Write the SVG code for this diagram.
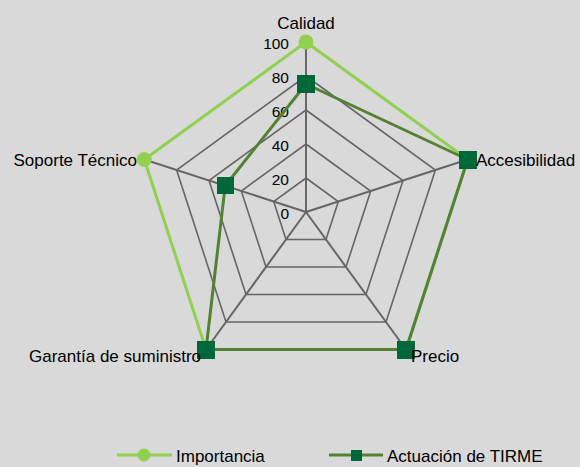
<svg xmlns="http://www.w3.org/2000/svg" width="580" height="467" viewBox="0 0 580 467">
<style>
.grid{fill:none;stroke:#666;stroke-width:1.6}
.spoke{stroke:#666;stroke-width:2}
.t{font-family:"Liberation Sans",Arial,sans-serif;font-size:17px;fill:#000}
.tick{font-family:"Liberation Sans",Arial,sans-serif;font-size:15.5px;fill:#000;text-anchor:end}
.imp{fill:none;stroke:#92D050;stroke-width:3;stroke-linejoin:round}
.act{fill:none;stroke:#548235;stroke-width:3;stroke-linejoin:round}
.cm{fill:#92D050}
.sm{fill:#006838}
</style>
<rect width="580" height="467" fill="#d9d9d9"/>
<g id="grid">
<polygon class="grid" points="306,178 338.3,201.5 326,239.5 286,239.5 273.7,201.5"/>
<polygon class="grid" points="306,144 370.7,191 346,267 266,267 241.3,191"/>
<polygon class="grid" points="306,110 403,180.5 366,294.5 246,294.5 209,180.5"/>
<polygon class="grid" points="306,76 435.4,170 386,322 226,322 176.6,170"/>
<polygon class="grid" points="306,42 467.7,159.5 406,349.5 206,349.5 144.3,159.5"/>
<line class="spoke" x1="306" y1="212" x2="306" y2="42"/>
<line class="spoke" x1="306" y1="212" x2="467.7" y2="159.5"/>
<line class="spoke" x1="306" y1="212" x2="406" y2="349.5"/>
<line class="spoke" x1="306" y1="212" x2="206" y2="349.5"/>
<line class="spoke" x1="306" y1="212" x2="144.3" y2="159.5"/>
</g>
<g id="ticks">
<text class="tick" x="289" y="219">0</text>
<text class="tick" x="289" y="185">20</text>
<text class="tick" x="289" y="151">40</text>
<text class="tick" x="289" y="117">60</text>
<text class="tick" x="289" y="83">80</text>
<text class="tick" x="289" y="49">100</text>
</g>
<g id="connectors">
<polygon id="importancia" class="imp" points="306,42 467.7,159.5 406,349.5 206,349.5 144.3,159.5"/>
<polygon id="actuacion" class="act" points="306,84 467.7,159.5 406,349.5 206,349.5 225.2,185.7"/>
</g>
<g id="markers-importancia">
<circle class="cm" cx="306" cy="42" r="7.5"/>
<circle class="cm" cx="467.7" cy="159.5" r="7.5"/>
<circle class="cm" cx="406" cy="349.5" r="7.5"/>
<circle class="cm" cx="206" cy="349.5" r="7.5"/>
<circle class="cm" cx="144.3" cy="159.5" r="7.5"/>
</g>
<g id="markers-actuacion">
<rect class="sm" x="297" y="75" width="18" height="18"/>
<rect class="sm" x="459" y="151" width="18" height="18"/>
<rect class="sm" x="397" y="341" width="18" height="18"/>
<rect class="sm" x="197" y="341" width="18" height="18"/>
<rect class="sm" x="217" y="177" width="17" height="17"/>
</g>
<g id="node-calidad"><text class="t" x="306" y="29" text-anchor="middle">Calidad</text></g>
<g id="node-accesibilidad"><text class="t" x="476" y="166">Accesibilidad</text></g>
<g id="node-precio"><text class="t" x="411" y="362">Precio</text></g>
<g id="node-garantia"><text class="t" x="201" y="362" text-anchor="end">Garantía de suministro</text></g>
<g id="node-soporte"><text class="t" x="137" y="166" text-anchor="end">Soporte Técnico</text></g>
<g id="legend">
<line x1="117" y1="455" x2="172" y2="455" stroke="#92D050" stroke-width="3"/>
<circle class="cm" cx="144" cy="455" r="6.5"/>
<text class="t" x="176" y="462">Importancia</text>
<line x1="329" y1="455" x2="383" y2="455" stroke="#548235" stroke-width="3"/>
<rect class="sm" x="351" y="450" width="11" height="11"/>
<text class="t" x="387" y="462">Actuación de TIRME</text>
</g>
</svg>
